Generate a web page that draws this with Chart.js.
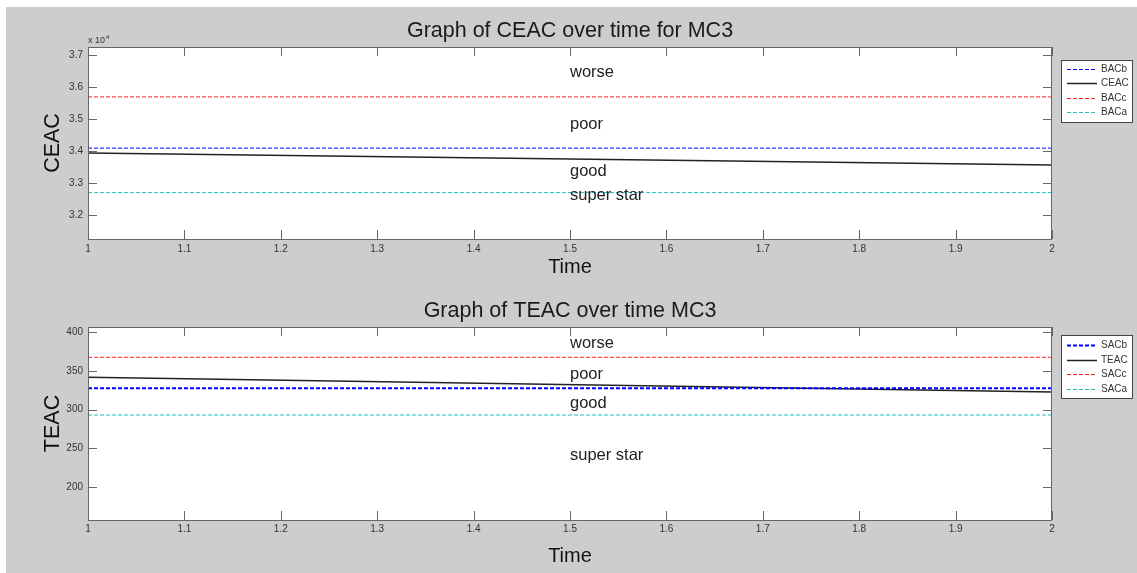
<!DOCTYPE html>
<html>
<head>
<meta charset="utf-8">
<script src="https://cdn.jsdelivr.net/npm/chart.js@4.4.1/dist/chart.umd.min.js"></script>
<style>
  html, body { margin: 0; padding: 0; background: #fff; }
  #bg { position: absolute; left: 6px; top: 7px; width: 1131px; height: 566px; background: #cdcdcd; }
  .panel { position: absolute; left: 0; width: 1137px; }
</style>
</head>
<body>
<div id="bg"></div>
<div class="panel" style="top:0"><canvas id="ceacChart" width="1137" height="280"></canvas></div>
<div class="panel" style="top:280px"><canvas id="teacChart" width="1137" height="293"></canvas></div>
<script>
// values
const timePoints = [1, 2];
const xTicks = [1, 1.1, 1.2, 1.3, 1.4, 1.5, 1.6, 1.7, 1.8, 1.9, 2];

const ceac = [33940, 33560];
const bacA = [32700, 32700];
const bacB = [34090, 34090];
const bacC = [35690, 35690];
const ceacTicks = [32000, 33000, 34000, 35000, 36000, 37000];

const teac = [341.5, 322.5];
const sacA = [292.9, 292.9];
const sacB = [327.3, 327.3];
const sacC = [367.4, 367.4];
const teacTicks = [200, 250, 300, 350, 400];

const zoneLabels = ['worse', 'poor', 'good', 'super star'];
const ceacZoneY = [36470, 34840, 33375, 32625];
const teacZoneY = [385.8, 345.8, 308.4, 241.3];

const BLUE = '#0000ff', RED = '#ff2020', CYAN = '#20c0c0', BLACK = '#222';
const FONT = 'Arial, "Liberation Sans", sans-serif';

function pts(ys) {
  return timePoints.map((x, i) => ({ x: x, y: ys[i] }));
}

function line(label, ys, color, dashed, width) {
  return {
    label: label,
    data: pts(ys),
    borderColor: color,
    borderWidth: width,
    borderDash: dashed ? [4, 2] : [],
    pointRadius: 0,
    fill: false,
    tension: 0
  };
}

// MATLAB-like axes box, inward ticks, title, zone labels, legend
const matlabAxes = {
  id: 'matlabAxes',
  beforeDatasetsDraw(chart) {
    const { ctx, chartArea: a } = chart;
    ctx.save();
    ctx.fillStyle = '#fff';
    ctx.fillRect(a.left, a.top, a.right - a.left, a.bottom - a.top);
    ctx.restore();
  },
  afterDatasetsDraw(chart, args, opts) {
    const { ctx, chartArea: a, scales } = chart;
    const xs = scales.x, ys = scales.y;
    ctx.save();
    ctx.strokeStyle = '#666';
    ctx.lineWidth = 1;
    ctx.setLineDash([]);
    ctx.strokeRect(a.left + 0.5, a.top + 0.5, a.right - a.left - 1, a.bottom - a.top);
    const len = 9;
    ctx.beginPath();
    xs.ticks.forEach(t => {
      const px = Math.round(xs.getPixelForValue(t.value)) + 0.5;
      ctx.moveTo(px, a.bottom); ctx.lineTo(px, a.bottom - len);
      ctx.moveTo(px, a.top); ctx.lineTo(px, a.top + len);
    });
    ys.ticks.forEach(t => {
      const py = Math.round(ys.getPixelForValue(t.value)) + 0.5;
      ctx.moveTo(a.left, py); ctx.lineTo(a.left + len, py);
      ctx.moveTo(a.right, py); ctx.lineTo(a.right - len, py);
    });
    ctx.stroke();

    // title centred over the axes
    ctx.fillStyle = '#1a1a1a';
    ctx.font = '21.5px ' + FONT;
    ctx.textAlign = 'center';
    ctx.textBaseline = 'middle';
    ctx.fillText(opts.title, (a.left + a.right) / 2, a.top - 16);

    // zone labels
    ctx.fillStyle = '#222';
    ctx.font = '16.5px ' + FONT;
    ctx.textAlign = 'left';
    const lx = xs.getPixelForValue(1.5);
    opts.zoneY.forEach((v, i) => ctx.fillText(zoneLabels[i], lx, ys.getPixelForValue(v)));

    // exponent
    if (opts.exponent) {
      ctx.fillStyle = '#333';
      ctx.font = '9px ' + FONT;
      ctx.textBaseline = 'alphabetic';
      ctx.fillText('x 10', a.left, a.top - 4);
      ctx.font = '6px ' + FONT;
      ctx.fillText(opts.exponent, a.left + 18, a.top - 8);
    }

    // legend
    const lg = opts.legend;
    ctx.fillStyle = '#fff';
    ctx.fillRect(lg.x, lg.y, lg.w, lg.h);
    ctx.strokeStyle = '#444';
    ctx.strokeRect(lg.x + 0.5, lg.y + 0.5, lg.w, lg.h);
    ctx.font = '10px ' + FONT;
    ctx.textBaseline = 'middle';
    chart.data.datasets.forEach((ds, i) => {
      const y = Math.round(lg.y + lg.first + i * lg.step) + 0.5;
      ctx.strokeStyle = ds.borderColor;
      ctx.lineWidth = ds.borderWidth === 1 ? 1 : ds.borderWidth;
      ctx.setLineDash(ds.borderDash);
      ctx.beginPath();
      ctx.moveTo(lg.x + 6, y);
      ctx.lineTo(lg.x + 36, y);
      ctx.stroke();
      ctx.setLineDash([]);
      ctx.fillStyle = '#333';
      ctx.fillText(ds.label, lg.x + 40, y);
    });
    ctx.restore();
  }
};

function makeChart(id, cfg) {
  new Chart(document.getElementById(id), {
    type: 'line',
    data: { datasets: cfg.datasets },
    plugins: [matlabAxes],
    options: {
      responsive: false,
      animation: false,
      layout: { padding: { left: 0, right: 85, top: 47, bottom: 0 } },
      plugins: {
        legend: { display: false },
        tooltip: { enabled: false },
        title: { display: false },
        matlabAxes: { title: cfg.title, zoneY: cfg.zoneY, exponent: cfg.exponent, legend: cfg.legend }
      },
      scales: {
        x: {
          type: 'linear',
          min: 1,
          max: 2,
          grid: { display: false, drawTicks: false },
          border: { display: false },
          afterBuildTicks: s => { s.ticks = xTicks.map(v => ({ value: v })); },
          afterFit: s => { s.height = cfg.xHeight; },
          ticks: {
            color: '#333',
            padding: cfg.xTickPad,
            maxRotation: 0,
            autoSkip: false,
            font: { family: FONT, size: 10 },
            callback: v => String(Math.round(v * 10) / 10)
          },
          title: {
            display: true,
            text: 'Time',
            color: '#111',
            font: { family: FONT, size: 20 },
            padding: { top: 0, bottom: cfg.xTitlePad }
          }
        },
        y: {
          type: 'linear',
          min: cfg.yMin,
          max: cfg.yMax,
          grid: { display: false, drawTicks: false },
          border: { display: false },
          afterBuildTicks: s => { s.ticks = cfg.yTicks.map(v => ({ value: v })); },
          afterFit: s => { s.width = 88; },
          ticks: {
            color: '#333',
            padding: 5,
            font: { family: FONT, size: 10 },
            callback: cfg.yFormat
          },
          title: {
            display: true,
            text: cfg.yTitle,
            color: '#111',
            font: { family: FONT, size: 21.5 },
            padding: { top: 40, bottom: 0 }
          }
        }
      }
    }
  });
}

makeChart('ceacChart', {
  title: 'Graph of CEAC over time for MC3',
  yTitle: 'CEAC',
  yMin: 31250, yMax: 37250,
  yTicks: ceacTicks,
  yFormat: v => (v / 10000).toFixed(1),
  zoneY: ceacZoneY,
  exponent: '4',
  xHeight: 41, xTickPad: 4, xTitlePad: 1,
  legend: { x: 1061, y: 60, w: 71, h: 62, first: 9, step: 14.3 },
  datasets: [
    line('BACb', bacB, BLUE, true, 1),
    line('CEAC', ceac, BLACK, false, 1.5),
    line('BACc', bacC, RED, true, 1),
    line('BACa', bacA, CYAN, true, 1)
  ]
});

makeChart('teacChart', {
  title: 'Graph of TEAC over time MC3',
  yTitle: 'TEAC',
  yMin: 157.4, yMax: 406.5,
  yTicks: teacTicks,
  yFormat: v => String(v),
  zoneY: teacZoneY,
  exponent: null,
  xHeight: 53, xTickPad: 3, xTitlePad: 5,
  legend: { x: 1061, y: 55, w: 71, h: 63, first: 10, step: 14.5 },
  datasets: [
    line('SACb', sacB, BLUE, true, 2),
    line('TEAC', teac, BLACK, false, 1.5),
    line('SACc', sacC, RED, true, 1),
    line('SACa', sacA, CYAN, true, 1)
  ]
});
</script>
</body>
</html>
